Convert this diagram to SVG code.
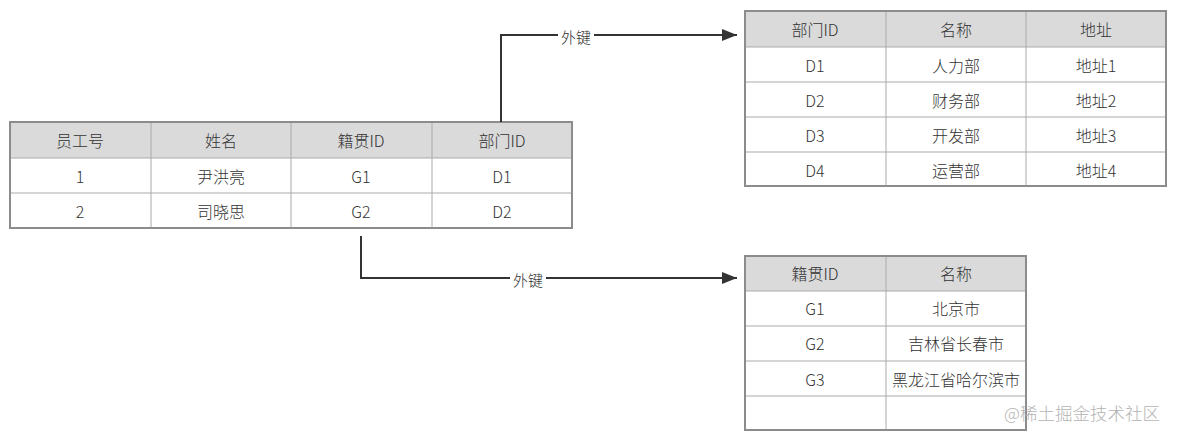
<svg xmlns="http://www.w3.org/2000/svg" width="1180" height="438" viewBox="0 0 1180 438">
<style>
  text { font-family: "Noto Sans CJK SC", "Microsoft YaHei", sans-serif; font-size: 16px; font-weight: 300; fill: #333; text-anchor: middle; dominant-baseline: central; }
  .hdr { fill: #dadada; }
  .cell { fill: #ffffff; }
  .grid { stroke: #aaaaaa; stroke-width: 1; fill: none; }
  .outer { stroke: #8c8c8c; stroke-width: 2; fill: none; }
  .conn { stroke: #333; stroke-width: 2; fill: none; }
  .lbl { font-size: 15px; fill: #333; }
  .wm { font-size: 17.5px; fill: #b4b4b4; text-anchor: start; }
</style>
<defs>
  <marker id="arr" markerWidth="16" markerHeight="12" refX="15" refY="6" orient="auto" markerUnits="userSpaceOnUse">
    <path d="M0,0 L15,6 L0,12 Z" fill="#333"/>
  </marker>
</defs>
<rect width="1180" height="438" fill="#ffffff"/>

<g id="employee">
  <rect class="cell" x="10" y="122" width="562" height="106"/>
  <rect class="hdr" x="10" y="122" width="562" height="36"/>
  <path class="grid" d="M151,122V228 M291,122V228 M432,122V228 M10,158H572 M10,193H572"/>
  <rect class="outer" x="10" y="122" width="562" height="106"/>
  <text x="80" y="140">员工号</text>
  <text x="221" y="140">姓名</text>
  <text x="361" y="140">籍贯ID</text>
  <text x="502" y="140">部门ID</text>
  <text x="80" y="176">1</text>
  <text x="221" y="176">尹洪亮</text>
  <text x="361" y="176">G1</text>
  <text x="502" y="176">D1</text>
  <text x="80" y="211">2</text>
  <text x="221" y="211">司晓思</text>
  <text x="361" y="211">G2</text>
  <text x="502" y="211">D2</text>
</g>

<g id="department">
  <rect class="cell" x="745" y="11" width="421" height="175"/>
  <rect class="hdr" x="745" y="11" width="421" height="36"/>
  <path class="grid" d="M886,11V186 M1026,11V186 M745,47H1166 M745,82H1166 M745,117H1166 M745,152H1166"/>
  <rect class="outer" x="745" y="11" width="421" height="175"/>
  <text x="815" y="29">部门ID</text>
  <text x="956" y="29">名称</text>
  <text x="1096" y="29">地址</text>
  <text x="815" y="65">D1</text>
  <text x="956" y="65">人力部</text>
  <text x="1096" y="65">地址1</text>
  <text x="815" y="100">D2</text>
  <text x="956" y="100">财务部</text>
  <text x="1096" y="100">地址2</text>
  <text x="815" y="135">D3</text>
  <text x="956" y="135">开发部</text>
  <text x="1096" y="135">地址3</text>
  <text x="815" y="170">D4</text>
  <text x="956" y="170">运营部</text>
  <text x="1096" y="170">地址4</text>
</g>

<g id="city">
  <rect class="cell" x="745" y="256" width="281" height="174"/>
  <rect class="hdr" x="745" y="256" width="281" height="35"/>
  <path class="grid" d="M886,256V430 M745,291H1026 M745,326H1026 M745,361H1026 M745,396H1026"/>
  <rect class="outer" x="745" y="256" width="281" height="174"/>
  <text x="815" y="273">籍贯ID</text>
  <text x="956" y="273">名称</text>
  <text x="815" y="308">G1</text>
  <text x="956" y="308">北京市</text>
  <text x="815" y="343">G2</text>
  <text x="956" y="343">吉林省长春市</text>
  <text x="815" y="379">G3</text>
  <text x="956" y="379">黑龙江省哈尔滨市</text>
</g>

<g id="connectors">
  <path class="conn" d="M501,122 V35 H737" marker-end="url(#arr)"/>
  <rect x="558" y="26" width="36" height="18" fill="#ffffff"/>
  <text class="lbl" x="576" y="36">外键</text>
  <path class="conn" d="M361,236 V278 H737" marker-end="url(#arr)"/>
  <rect x="510" y="269" width="36" height="18" fill="#ffffff"/>
  <text class="lbl" x="528" y="279">外键</text>
</g>

<text class="wm" x="1004" y="412">@稀土掘金技术社区</text>
</svg>
